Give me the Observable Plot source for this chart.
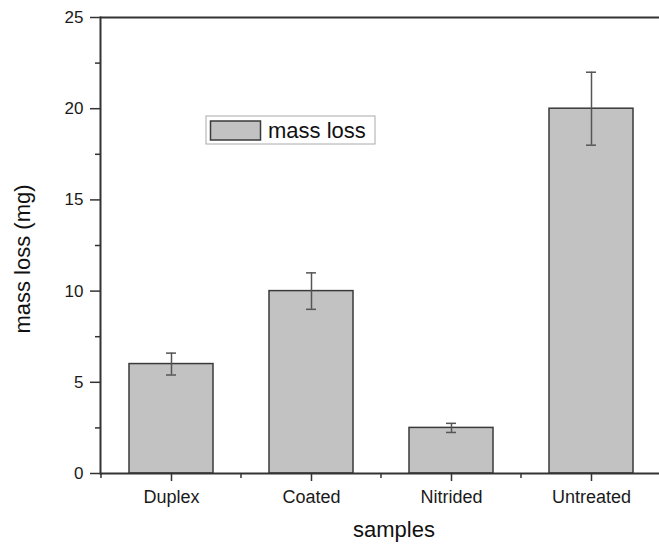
<!DOCTYPE html>
<html>
<head>
<meta charset="utf-8">
<script src="https://cdn.jsdelivr.net/npm/d3@7"></script>
<script src="https://cdn.jsdelivr.net/npm/@observablehq/plot@0.6"></script>
<style>
  html, body { margin: 0; padding: 0; background: #fff; overflow: hidden; }
  #chart svg { display: block; }
</style>
</head>
<body>
<div id="chart"></div>
<script>
const samples = ["Duplex", "Coated", "Nitrided", "Untreated"];
const massLoss = [6, 10, 2.5, 20];
const errors = [0.6, 1, 0.25, 2];
const yMajorTicks = [0, 5, 10, 15, 20, 25];
const yMinorTicks = [2.5, 7.5, 12.5, 17.5, 22.5];
const legendLabel = "mass loss";
const xTitle = "samples";
const yTitle = "mass loss (mg)";

const data = samples.map((s, i) => ({sample: s, loss: massLoss[i], err: errors[i]}));

const font = "'Liberation Sans', Arial, Helvetica, sans-serif";
const axisColor = "#333";

const plot = Plot.plot({
  width: 659,
  height: 545,
  marginLeft: 100,
  marginRight: 0,
  marginTop: 17,
  marginBottom: 72,
  x: {domain: samples, range: [100, 662], paddingInner: 0.4, paddingOuter: 0.2, label: null},
  y: {domain: [0, 25], label: null},
  style: {fontFamily: font, fontSize: "17px", color: "#1a1a1a", background: "#fff"},
  marks: [
    Plot.barY(data, {x: "sample", y: "loss", fill: "#c2c2c2", stroke: "#3a3a3a", strokeWidth: 1.5}),
    Plot.ruleX(data, {x: "sample", y1: d => d.loss - d.err, y2: d => d.loss + d.err, stroke: "#555", strokeWidth: 1.5}),
    Plot.tickY(data, {x: "sample", y: d => d.loss + d.err, inset: 37, stroke: "#555", strokeWidth: 1.5}),
    Plot.tickY(data, {x: "sample", y: d => d.loss - d.err, inset: 37, stroke: "#555", strokeWidth: 1.5}),
    Plot.ruleY([0], {stroke: axisColor, strokeWidth: 2}),
    Plot.ruleY([25], {stroke: axisColor, strokeWidth: 2}),
    Plot.frame({anchor: "left", stroke: axisColor, strokeWidth: 2}),
    Plot.axisY({ticks: yMajorTicks, tickSize: 10, tickPadding: 7, tickFormat: d => String(d), label: null, stroke: axisColor, strokeWidth: 1.5, fontSize: 17}),
    Plot.axisY({ticks: yMinorTicks, tickSize: 5, tickFormat: () => "", label: null, stroke: axisColor, strokeWidth: 1.5}),
    Plot.axisX({tickSize: 8, tickPadding: 9, label: null, stroke: axisColor, strokeWidth: 1.5, fontSize: 18})
  ]
});

document.getElementById("chart").appendChild(plot);

const svg = d3.select(plot);

// minor x ticks at band boundaries, from the plot's own x scale
const sx = plot.scale("x");
let step = sx.step, bw = sx.bandwidth;
if (step == null || bw == null) {
  const b = d3.scaleBand().domain(samples).range(sx.range).paddingInner(0.4).paddingOuter(0.2);
  step = b.step(); bw = b.bandwidth();
}
const y0 = plot.scale("y").apply(0);
const bounds = samples.map(s => sx.apply(s) + bw / 2 - step / 2);
bounds.push(bounds[bounds.length - 1] + step);
svg.append("g")
  .attr("stroke", axisColor)
  .attr("stroke-width", 1.5)
  .selectAll("line")
  .data(bounds)
  .join("line")
  .attr("x1", d => d).attr("x2", d => d)
  .attr("y1", y0).attr("y2", y0 + 5);

// axis titles
svg.append("text")
  .attr("transform", "translate(30,259) rotate(-90)")
  .attr("text-anchor", "middle")
  .attr("font-family", font)
  .attr("font-size", 22)
  .attr("fill", "#111")
  .text(yTitle);

svg.append("text")
  .attr("x", 394)
  .attr("y", 537)
  .attr("text-anchor", "middle")
  .attr("font-family", font)
  .attr("font-size", 22)
  .attr("fill", "#111")
  .text(xTitle);

// legend
const lg = svg.append("g");
lg.append("rect")
  .attr("x", 206).attr("y", 116).attr("width", 169).attr("height", 28)
  .attr("fill", "#fff").attr("stroke", "#aaa").attr("stroke-width", 1);
lg.append("rect")
  .attr("x", 210.5).attr("y", 121).attr("width", 50).attr("height", 19)
  .attr("fill", "#c2c2c2").attr("stroke", "#3a3a3a").attr("stroke-width", 1.5);
lg.append("text")
  .attr("x", 268).attr("y", 137.5)
  .attr("text-anchor", "start")
  .attr("font-family", font)
  .attr("font-size", 22)
  .attr("fill", "#111")
  .text(legendLabel);
</script>
</body>
</html>
